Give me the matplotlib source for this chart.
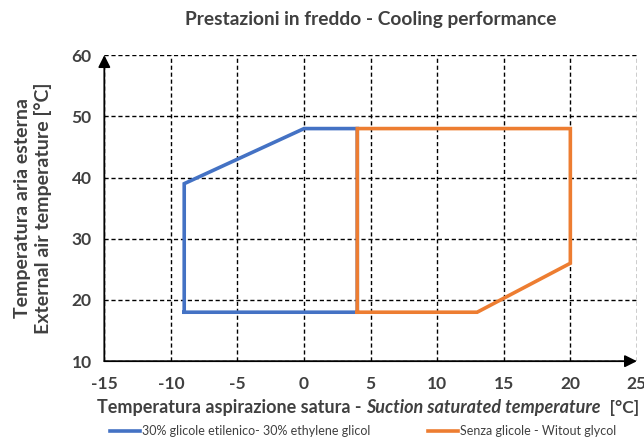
import matplotlib
matplotlib.use("Agg")
import matplotlib.pyplot as plt

plt.rcParams['font.family'] = ['Lato', 'DejaVu Sans']
plt.rcParams['axes.unicode_minus'] = False

# dati
glicole_x = [-9, -9, 0, 4, 4, -9]
glicole_y = [18, 39, 48, 48, 18, 18]
senza_x = [4, 4, 20, 20, 13, 4]
senza_y = [18, 48, 48, 26, 18, 18]

x_ticks = [-15, -10, -5, 0, 5, 10, 15, 20, 25]
y_ticks = [10, 20, 30, 40, 50, 60]

label_glicole = "30% glicole etilenico- 30% ethylene glicol"
label_senza = "Senza glicole - Witout glycol"

BLUE = "#4472C4"
ORANGE = "#ED7D31"
GREY = "#404040"

fig = plt.figure(figsize=(6.44, 4.41), dpi=100)
ax = fig.add_axes([0.162, 0.181, 0.827, 0.694])

ax.plot(glicole_x, glicole_y, color=BLUE, lw=2.6, solid_joinstyle="miter",
        label=label_glicole, zorder=3)
ax.plot(senza_x, senza_y, color=ORANGE, lw=2.6, solid_joinstyle="miter",
        label=label_senza, zorder=4)

ax.set_xlim(x_ticks[0], x_ticks[-1])
ax.set_ylim(y_ticks[0], y_ticks[-1])
ax.set_xticks(x_ticks)
ax.set_yticks(y_ticks)
ax.grid(True, color="black", linestyle=(0, (3, 2)), lw=1.0, zorder=1)
ax.tick_params(axis="x", length=0, pad=11, labelsize=12.5, labelcolor=GREY)
ax.tick_params(axis="y", length=0, pad=9, labelsize=12.5, labelcolor=GREY)
for lab in ax.get_xticklabels() + ax.get_yticklabels():
    lab.set_fontweight("bold")
for s in ax.spines.values():
    s.set_visible(False)

# assi con freccia
ax.annotate("", xy=(x_ticks[-1], y_ticks[0]), xytext=(x_ticks[0], y_ticks[0]),
            arrowprops=dict(arrowstyle="-|>", color="black", lw=1.3,
                            mutation_scale=18, shrinkA=0, shrinkB=0),
            annotation_clip=False, zorder=5)
ax.annotate("", xy=(x_ticks[0], y_ticks[-1]), xytext=(x_ticks[0], y_ticks[0]),
            arrowprops=dict(arrowstyle="-|>", color="black", lw=1.3,
                            mutation_scale=18, shrinkA=0, shrinkB=0),
            annotation_clip=False, zorder=5)

ax.set_title("Prestazioni in freddo - Cooling performance", fontsize=13.8,
             fontweight="bold", color=GREY, pad=22)

ax.set_ylabel("Temperatura aria esterna\nExternal air temperature [°C]",
              fontsize=14, fontweight="bold", color=GREY, labelpad=14,
              linespacing=1.25)

# etichetta asse x in tre pezzi (parte centrale in corsivo)
t1 = fig.text(0.151, 0.063, "Temperatura aspirazione satura - ", ha="left",
              va="baseline", fontsize=13, fontweight="bold", color=GREY)
t2 = ax.annotate("Suction saturated temperature", xy=(1, 0), xycoords=t1,
                 va="bottom", ha="left", fontsize=13, fontweight="bold",
                 fontstyle="italic", color=GREY)
ax.annotate("  [°C]", xy=(1, 0), xycoords=t2, va="bottom", ha="left",
            fontsize=12.6, fontweight="bold", color=GREY)

leg = fig.legend(loc="center", bbox_to_anchor=(0.564, 0.022), ncol=2,
                 frameon=False, fontsize=9, handlelength=2.4,
                 columnspacing=4.6, handletextpad=0.15, labelcolor=GREY)

plt.savefig("out.png", dpi=100)
